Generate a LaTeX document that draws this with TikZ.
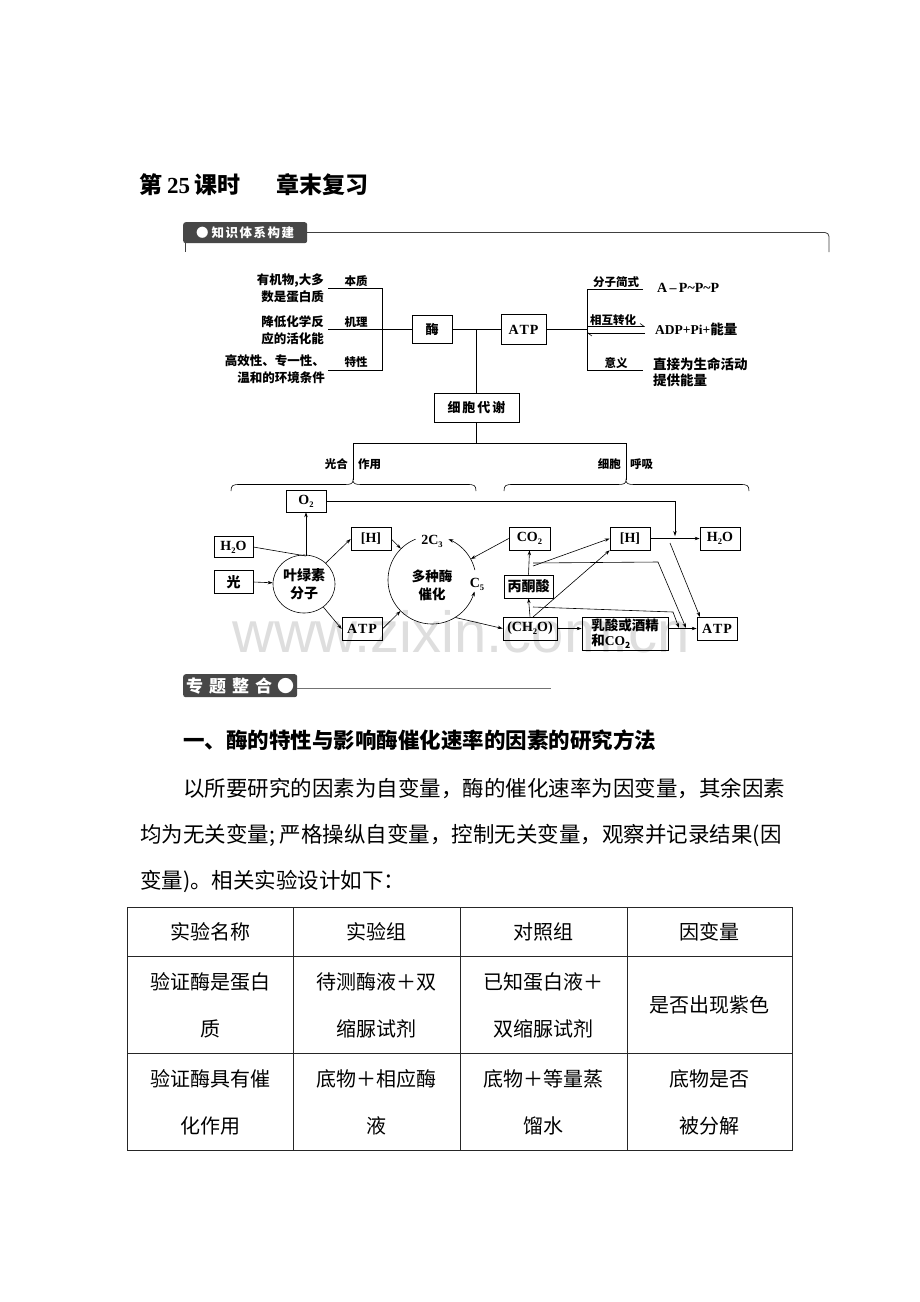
\documentclass[tikz,border=0pt]{standalone}
\usepackage{fontspec}
\setmainfont{Liberation Serif}
\newfontfamily\cjk{Noto Sans CJK SC}
\newfontfamily\wmf{Liberation Sans}
\usetikzlibrary{arrows.meta,calc,shapes.geometric}
\newcommand\dn[1]{\raisebox{-0.45ex}{\fontsize{8.5}{8.5}\selectfont #1}}
\newcommand\fs[1]{\fontsize{#1}{#1}\selectfont}
\begin{document}
\begin{tikzpicture}[x=1pt,y=-1pt,
 box/.style={draw, line width=0.6pt, inner sep=0pt, minimum width=40pt, minimum height=23pt, font=\bfseries\fs{14}},
 cbox/.style={box, font=\cjk\bfseries\fs{14}},
 ln/.style={line width=0.6pt},
 arr/.style={line width=0.6pt, -{Stealth[length=5pt,width=3.4pt]}},
 harp/.style={line width=0.6pt, -{Straight Barb[left,length=4pt,width=6pt]}},
 lt/.style={font=\cjk\bfseries\fontsize{12.5}{17}\selectfont, align=right, anchor=east, inner sep=0pt},
 sl/.style={font=\cjk\bfseries\fs{11.5}, inner sep=0pt},
 hdr/.style={fill=black!72, text=white, inner sep=0pt, rounded corners=2.5pt},
 para/.style={font=\cjk\fs{21.5}, anchor=base west, inner sep=0pt},
 cell/.style={font=\cjk\fontsize{20}{47}\selectfont, align=center, inner sep=0pt},
]
\useasboundingbox[fill=white] (0,0) rectangle (920,1302);

% watermark
\node[anchor=base west, inner sep=0pt, text=black!13, font=\wmf\fs{58}] (wm) at (232,652) {www.zixin.com.cn};

% title
\node[anchor=west, inner sep=0pt, font=\bfseries\fs{23}] (title1) at (139,185) {{\cjk\bfseries 第}\hspace{5pt}25\hspace{4pt}{\cjk\bfseries 课时}};
\node[anchor=west, inner sep=0pt, font=\cjk\bfseries\fs{23}] (title2) at (276,185) {章末复习};

% header 1
\node[hdr, anchor=north west, minimum width=124pt, minimum height=21pt, font=\cjk\bfseries\fs{12.5}] (h1) at (183,222) {●\hspace{3pt}知\hspace{1.5pt}识\hspace{1.5pt}体\hspace{1.5pt}系\hspace{1.5pt}构\hspace{1.5pt}建};
\coordinate (h1a) at (307,232.5);
\coordinate (h1b) at (829,232.5);
\coordinate (h1c) at (829,252);
\coordinate (h1d) at (185,243);
\coordinate (h1e) at (185,252);
\draw[line width=0.8pt, black!75, rounded corners=4pt] (h1a) -- (h1b) -- (h1c);
\draw[line width=0.8pt, black!75] (h1d) -- (h1e);

% ---------- top tree ----------
\node[lt] (t1) at (324,288) {有机物,大多\\数是蛋白质};
\node[lt] (t2) at (324,330) {降低化学反\\应的活化能};
\node[lt] (t3) at (325,369) {高效性、专一性、\\温和的环境条件};
\node[sl] (l1) at (356,281) {本质};
\node[sl] (l2) at (356,322) {机理};
\node[sl] (l3) at (356,362) {特性};
\coordinate (a1) at (328,288);
\coordinate (a2) at (382,288);
\coordinate (a3) at (382,370);
\coordinate (a4) at (328,370);
\coordinate (a5) at (328,329.5);
\draw[ln] (a1) -- (a2) -- (a3) -- (a4);

\node[box, minimum width=40pt, minimum height=28pt, font=\cjk\bfseries\fs{13}] (mei) at (432,329.5) {酶};
\node[box, minimum width=45pt, minimum height=30pt] (atp0) at (523.5,329.5) {A\hspace{1pt}T\hspace{1pt}P};
\node[box, minimum width=85pt, minimum height=29pt, font=\cjk\bfseries\fs{13}] (xb) at (476.5,407.5) {细\hspace{2pt}胞\hspace{2pt}代\hspace{2pt}谢};
\draw[ln] (a5) -- (mei.west);
\draw[ln] (mei.east) -- (atp0.west);
\coordinate (j1) at (476.5,329.5);
\draw[ln] (j1) -- (xb.north);

\coordinate (b1) at (587,289);
\coordinate (b2) at (643,289);
\coordinate (b3) at (587,370);
\coordinate (b4) at (643,370);
\coordinate (b5) at (587,329.5);
\coordinate (b6) at (587,326.5);
\coordinate (b7) at (645,326.5);
\coordinate (b8) at (587,333);
\coordinate (b9) at (645,333);
\draw[ln] (b2) -- (b1) -- (b3) -- (b4);
\draw[ln] (atp0.east) -- (b5);
\draw[harp] (b6) -- (b7);
\draw[harp] (b9) -- (b8);
\node[sl] (r1) at (616,282) {分子简式};
\node[sl] (r2) at (613,320) {相互转化};
\node[sl] (r3) at (616,363) {意义};
\node[anchor=west, inner sep=0pt, font=\bfseries\fs{14}] (f1) at (657,288) {A\,–\,P\textasciitilde P\textasciitilde P};
\node[anchor=west, inner sep=0pt, font=\bfseries\fs{13.5}] (f2) at (655,329) {ADP+Pi+{\cjk\bfseries 能量}};
\node[anchor=west, inner sep=0pt, align=left, font=\cjk\bfseries\fontsize{13.5}{16.5}\selectfont] (f3) at (653,372) {直接为生命活动\\提供能量};

% ---------- middle ----------
\coordinate (m0) at (476.5,443);
\coordinate (m1) at (353,443);
\coordinate (m2) at (626,443);
\coordinate (m3) at (353,480);
\coordinate (m4) at (626,480);
\draw[ln] (xb.south) -- (m0);
\draw[ln] (m3) -- (m1) -- (m2) -- (m4);
\node[sl, anchor=east] (g1) at (348,464) {光合};
\node[sl, anchor=west] (g2) at (358,464) {作用};
\node[sl, anchor=east] (g3) at (621,464) {细胞};
\node[sl, anchor=west] (g4) at (630,464) {呼吸};
\draw[ln] (231,491) .. controls (231,485) and (233,484.5) .. (240,484.5) -- (345,484.5) .. controls (351,484.5) and (353,483.5) .. (353,480) .. controls (353,483.5) and (355,484.5) .. (361,484.5) -- (467,484.5) .. controls (474,484.5) and (476,485) .. (476,491);
\draw[ln] (504,491) .. controls (504,485) and (506,484.5) .. (513,484.5) -- (618,484.5) .. controls (624,484.5) and (626,483.5) .. (626,480) .. controls (626,483.5) and (628,484.5) .. (634,484.5) -- (740,484.5) .. controls (747,484.5) and (749,485) .. (749,491);

% ---------- bottom diagram ----------
\node[box, minimum width=40pt, minimum height=22pt] (o2) at (306,501) {O\dn{2}};
\node[box, minimum width=39pt, minimum height=21pt] (h2o) at (233.5,547) {H\dn{2}O};
\node[cbox, minimum width=39pt, minimum height=23pt] (guang) at (233.5,582) {光};
\node[ellipse, draw, line width=0.6pt, minimum width=62pt, minimum height=58pt, inner sep=0pt, align=center, font=\cjk\bfseries\fontsize{14}{18}\selectfont] (ell) at (304,584) {叶绿素\\分子};
\node[box] (hl) at (371,539) {[H]};
\node[box] (atpl) at (362,629) {A\hspace{1pt}T\hspace{1pt}P};
\node[circle, minimum size=88pt, inner sep=0pt] (cir) at (432,580) {};
\node[inner sep=0pt, align=center, font=\cjk\bfseries\fontsize{13.5}{18}\selectfont] (cirt) at (432,585) {多种酶\\催化};
\node[inner sep=0pt, font=\bfseries\fs{14}] (c3) at (432,541) {2C\dn{3}};
\node[inner sep=0pt, font=\bfseries\fs{14}] (c5) at (477,584) {C\dn{5}};
\node[box, minimum width=41pt] (co2) at (529.5,538.5) {CO\dn{2}};
\node[cbox, minimum width=49pt] (bt) at (528.5,586.5) {丙酮酸};
\node[box, minimum width=54pt] (ch2o) at (530,628.5) {(CH\dn{2}O)};
\node[box] (hr) at (630,538.5) {[H]};
\node[box] (h2or) at (720,538.5) {H\dn{2}O};
\node[box] (atpr) at (717,628.5) {A\hspace{1pt}T\hspace{1pt}P};
\node[box, minimum width=86pt, minimum height=33pt, align=left, font=\cjk\bfseries\fontsize{13.5}{15}\selectfont] (rs) at (625,633.5) {乳酸或酒精\\和{\rmfamily\bfseries CO}\dn{2}};

\draw[arr] plot[domain=0:1, samples=60, smooth] ({432+44*cos(-112-233*\x)},{580+44*sin(-112-233*\x)});
\draw[arr] plot[domain=0:1, samples=20, smooth] ({432+44*cos(-13-55*\x)},{580+44*sin(-13-55*\x)});

\coordinate (jo) at (306,556);
\coordinate (od) at (675,536);
\draw[arr] (guang.east) -- (ell);
\draw[ln] (h2o.east) -- (jo);
\draw[arr] (jo) -- (o2.south);
\draw[arr] (o2.east) -| (od);
\draw[arr] (ell) -- (hl.west);
\draw[arr] (ell) -- (atpl.west);
\draw[arr] (hl.east) -- (cir);
\draw[arr] (atpl.east) -- (cir);
\draw[arr] (co2.west) -- (cir);
\draw[arr] (cir.-58) -- (ch2o.west);
\draw[arr] (ch2o.north) -- (bt.south);
\draw[arr] (bt.north) -- (co2.south);
\draw[arr] (ch2o.east) -- (rs.west |- ch2o.east);
\draw[arr] (rs.east |- atpr.west) -- (atpr.west);
\draw[arr] (hr.east) -- (h2or.west);
\coordinate (c1) at (533,617);
\coordinate (p1) at (533,566);
\coordinate (p2) at (533,563);
\coordinate (k1) at (658,562);
\coordinate (k2) at (686,628);
\coordinate (p3) at (533,607);
\coordinate (k3) at (673,612);
\coordinate (k4) at (679,628);
\coordinate (q1) at (670,543);
\coordinate (q2) at (700,617);
\draw[arr] (c1) -- (hr.south west);
\draw[arr] (p1) -- (hr.west);
\draw[arr] (p2) -- (k1) -- (k2);
\draw[arr] (p3) -- (k3) -- (k4);
\draw[arr] (q1) -- (q2);

% header 2
\node[hdr, anchor=north west, minimum width=114pt, minimum height=23pt, font=\cjk\bfseries\fs{17}] (h2) at (183,674) {专\hspace{6pt}题\hspace{6pt}整\hspace{6pt}合\hspace{5pt}●};
\coordinate (h2b) at (551,688);
\draw[line width=1pt, black!55] (h2.east |- h2b) -- (h2b);

% text
\node[para, font=\cjk\bfseries\fs{21.5}] (sec) at (183,748) {一、酶的特性与影响酶催化速率的因素的研究方法};
\node[para] (p1t) at (183,796) {以所要研究的因素为自变量，酶的催化速率为因变量，其余因素};
\node[para] (p2t) at (140,842) {均为无关变量; 严格操纵自变量，控制无关变量，观察并记录结果(因};
\node[para] (p3t) at (140,888) {变量)。相关实验设计如下：};

% table
\draw[line width=0.8pt, black!85] (127,907) rectangle (792,1150);
\draw[line width=0.8pt, black!85] (127,956) -- (792,956);
\draw[line width=0.8pt, black!85] (127,1053) -- (792,1053);
\draw[line width=0.8pt, black!85] (293,907) -- (293,1150);
\draw[line width=0.8pt, black!85] (460,907) -- (460,1150);
\draw[line width=0.8pt, black!85] (627,907) -- (627,1150);
\node[cell] (c11) at (210,932) {实验名称};
\node[cell] (c12) at (376.5,932) {实验组};
\node[cell] (c13) at (543.5,932) {对照组};
\node[cell] (c14) at (709.5,932) {因变量};
\node[cell] (c21) at (210,1005) {验证酶是蛋白\\质};
\node[cell] (c22) at (376.5,1005) {待测酶液＋双\\缩脲试剂};
\node[cell] (c23) at (543.5,1005) {已知蛋白液＋\\双缩脲试剂};
\node[cell] (c24) at (709.5,1005) {是否出现紫色};
\node[cell] (c31) at (210,1102) {验证酶具有催\\化作用};
\node[cell] (c32) at (376.5,1102) {底物＋相应酶\\液};
\node[cell] (c33) at (543.5,1102) {底物＋等量蒸\\馏水};
\node[cell] (c34) at (709.5,1102) {底物是否\\被分解};
\end{tikzpicture}
\end{document}
